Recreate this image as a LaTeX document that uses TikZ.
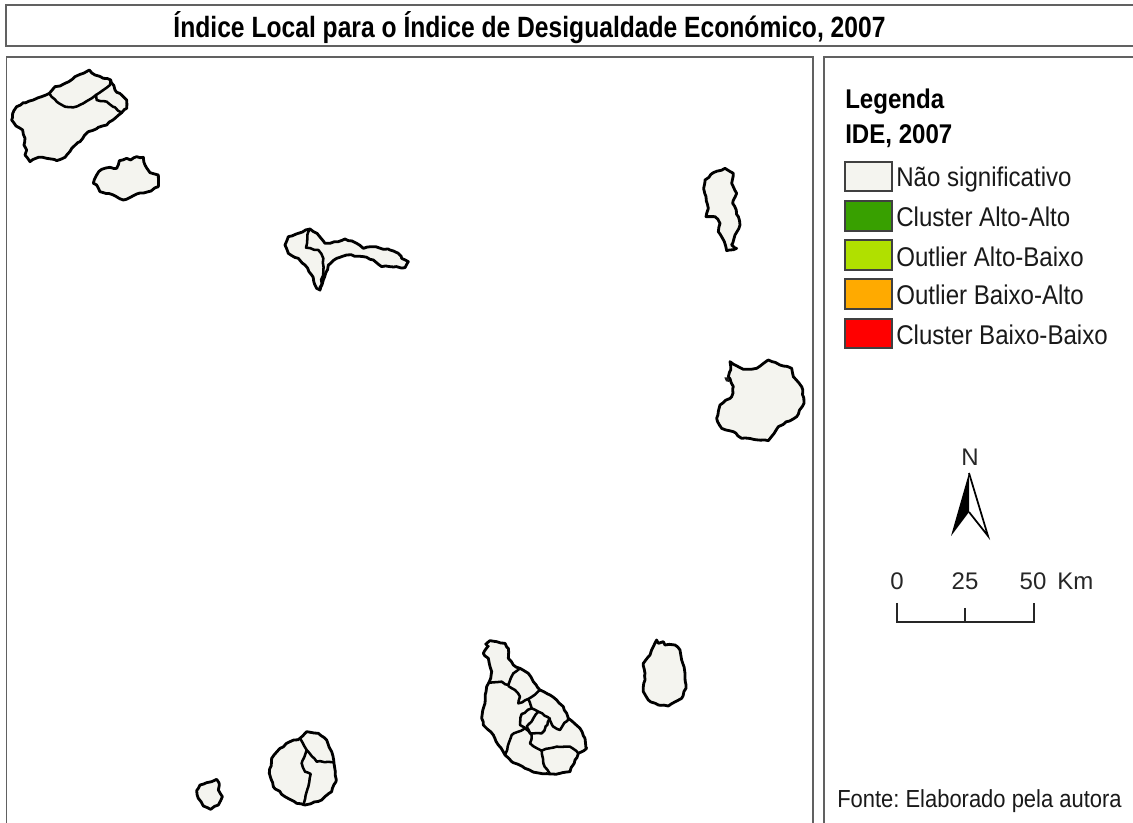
\documentclass[tikz,border=0pt]{standalone}
\usepackage{fontspec}
\usetikzlibrary{decorations.pathmorphing}
\setmainfont{Liberation Sans}
\newfontfamily\narrowfont[FakeStretch=0.89]{Liberation Sans}
\newfontfamily\titlefont[FakeStretch=0.84]{Liberation Sans}
\definecolor{landfill}{HTML}{F4F4EF}
\definecolor{cA}{HTML}{38A000}
\definecolor{cB}{HTML}{B0E000}
\definecolor{cC}{HTML}{FFAA00}
\definecolor{cD}{HTML}{FF0000}
\frenchspacing
\tikzset{
  frame/.style={draw=black!62,line width=1.1pt,fill=white},
  wiggle/.style={decorate,decoration={random steps,segment length=3pt,amplitude=0.55pt}},
  island/.style={draw=black,line width=2.1pt,fill=landfill,line join=round,wiggle},
  border/.style={draw=black,line width=1.9pt,line join=round,line cap=round,wiggle},
  swatch/.style={draw=black!75,line width=1.1pt},
  lbl/.style={anchor=base west,inner sep=0pt,font=\narrowfont\fontsize{20.3}{20.3}\selectfont,text=black!90},
  bold/.style={anchor=base west,inner sep=0pt,font=\narrowfont\bfseries\fontsize{20.3}{20.3}\selectfont},
  ttl/.style={anchor=base,inner sep=0pt,font=\titlefont\bfseries\fontsize{22}{22}\selectfont},
  sc/.style={anchor=base,inner sep=0pt,font=\fontsize{18}{18}\selectfont,text=black!85},
  subscale/.style={x=0.25pt,y=-0.25pt},
}
\pgfmathsetseed{7}
\begin{document}
\begin{tikzpicture}[x=0.75pt,y=-0.75pt]
\useasboundingbox (0,0) rectangle (1133,823);
\fill[white] (0,0) rectangle (1133,823);
% frames
\path[frame] (6,5) rectangle (1140,46);
\path[frame] (6.5,57) rectangle (813,830);
\path[frame] (824,57) rectangle (1140,830);
\node[ttl] (title) at (529.5,38) {Índice Local para o Índice de Desigualdade Económico, 2007};
% Santo Antao, Sao Vicente
\begin{scope}[shift={(0,50)},subscale]
\path[island] (148,130)--(125,140)--(100,150)--(70,158)--(50,170)--(38,190)--(35,210)--(48,228)--(68,240)--(75,265)--(72,285)--(80,300)--(75,315)--(90,335)--(115,322)--(140,325)--(170,332)--(195,322)--(215,295)--(240,275)--(265,245)--(295,232)--(320,225)--(345,205)--(365,188)--(380,175)--(380,150)--(370,140)--(345,120)--(332,90)--(310,85)--(285,75)--(268,60)--(250,70)--(225,80)--(195,100)--(180,108)--(165,110)--cycle;
\draw[border] (148,130)--(170,155)--(195,170)--(220,172)--(250,160)--(275,145)--(288,135)--(310,120)--(330,105)--(332,90);
\draw[border] (288,135)--(290,150)--(320,155)--(345,172)--(365,188);
\path[island] (280,400)--(290,375)--(305,358)--(330,352)--(350,355)--(358,332)--(380,325)--(392,330)--(410,320)--(430,322)--(435,345)--(450,368)--(475,375)--(475,410)--(445,425)--(410,432)--(370,450)--(340,435)--(300,425)--(290,405)--cycle;
\end{scope}
% Sao Nicolau
\begin{scope}[shift={(270,215)},subscale]
\path[island] (120,42)--(145,60)--(165,85)--(180,85)--(225,72)--(260,85)--(280,100)--(305,95)--(360,105)--(385,115)--(395,130)--(415,140)--(405,158)--(360,155)--(335,155)--(310,135)--(280,125)--(230,120)--(200,130)--(175,150)--(160,195)--(150,225)--(140,220)--(125,180)--(105,150)--(85,130)--(55,115)--(45,90)--(55,65)--(85,55)--cycle;
\draw[border] (120,42)--(112,60)--(108,98)--(145,105)--(160,130)--(160,170)--(150,225);
\end{scope}
% Sal, Boa Vista
\begin{scope}[shift={(690,160)},subscale]
\path[island] (45,60)--(70,38)--(105,25)--(130,40)--(125,70)--(140,100)--(128,130)--(145,170)--(150,195)--(135,225)--(125,255)--(140,265)--(110,272)--(103,245)--(85,215)--(90,190)--(75,170)--(48,170)--(55,145)--(48,110)--(42,80)--cycle;
\path[island] (120,605)--(135,615)--(160,628)--(200,625)--(235,600)--(270,615)--(305,625)--(310,650)--(335,680)--(342,730)--(320,770)--(265,800)--(235,842)--(190,838)--(155,835)--(130,815)--(95,805)--(80,775)--(90,735)--(125,710)--(130,680)--(115,650)--(122,630)--cycle;
\fill[black!90] (103,652)--(115,652)--(118,666)--(108,664)--cycle;
\end{scope}
% Maio
\begin{scope}[shift={(630,630)},subscale]
\path[island] (80,30)--(85,40)--(100,35)--(105,45)--(135,45)--(150,60)--(155,90)--(165,130)--(168,175)--(155,205)--(115,228)--(85,225)--(55,210)--(40,185)--(45,130)--(40,100)--(60,75)--(70,50)--cycle;
\end{scope}
% Santiago
\begin{scope}[shift={(470,630)},subscale]
\path[island] (45,45)--(60,32)--(80,35)--(105,40)--(115,55)--(115,85)--(130,105)--(150,115)--(175,130)--(190,155)--(210,180)--(240,195)--(260,210)--(280,230)--(295,265)--(330,295)--(345,325)--(350,355)--(325,370)--(315,390)--(300,425)--(270,430)--(240,432)--(200,428)--(165,415)--(125,395)--(105,375)--(85,345)--(70,315)--(40,285)--(35,265)--(45,220)--(50,170)--(58,155)--(65,125)--(55,85)--(40,70)--(50,55)--cycle;
\draw[border] (58,158)--(95,155)--(115,165)--(130,130)--(150,115);
\draw[border] (115,168)--(135,180)--(150,200)--(145,220)--(175,207)--(210,180);
\draw[border] (175,207)--(185,235)--(205,245)--(235,262)--(250,290)--(270,300)--(295,265);
\draw[border] (185,235)--(155,252)--(150,285)--(165,295)--(125,315)--(105,375);
\draw[border] (205,245)--(190,265)--(170,290)--(180,310)--(215,310)--(232,285)--(240,265);
\draw[border] (165,295)--(185,315)--(180,340)--(215,362)--(260,350)--(300,350)--(325,370);
\draw[border] (215,362)--(220,400)--(240,432);
\end{scope}
% Fogo, Brava
\begin{scope}[shift={(190,720)},subscale]
\path[island] (330,55)--(350,35)--(385,40)--(410,60)--(425,95)--(432,130)--(438,185)--(425,215)--(395,240)--(345,255)--(320,250)--(285,230)--(250,200)--(238,160)--(245,115)--(270,85)--(300,65)--cycle;
\draw[border] (330,55)--(350,90)--(380,125)--(430,127);
\draw[border] (350,90)--(335,130)--(345,155)--(362,162)--(350,215)--(340,255);
\path[island] (30,195)--(50,188)--(65,185)--(80,178)--(88,195)--(85,210)--(97,230)--(85,255)--(62,268)--(40,258)--(25,235)--(20,212)--cycle;
\end{scope}
% Legend
\node[bold] (legA) at (845,109) {Legenda};
\node[bold] (legB) at (845,144) {IDE, 2007};
\path[swatch,fill=landfill] (845,162) rectangle (892,191);
\path[swatch,fill=cA] (845,201) rectangle (892,231);
\path[swatch,fill=cB] (845,240) rectangle (892,270);
\path[swatch,fill=cC] (845,279) rectangle (892,309);
\path[swatch,fill=cD] (845,319) rectangle (892,348);
\node[lbl] (l0) at (896,187) {Não significativo};
\node[lbl] (l1) at (896,227) {Cluster Alto-Alto};
\node[lbl] (l2) at (896,267) {Outlier Alto-Baixo};
\node[lbl] (l3) at (896,305) {Outlier Baixo-Alto};
\node[lbl] (l4) at (896,345) {Cluster Baixo-Baixo};
% North arrow
\node[sc] (north) at (970,466) {N};
\coordinate (nt) at (969,473);
\coordinate (nl) at (951,536);
\coordinate (nr) at (988,536);
\coordinate (nm) at (969,512);
\fill[black] (nt)--(nm)--(nl)--cycle;
\draw[black,line width=1.3pt,line join=miter] (nt)--(nr)--(nm);
% Scale bar
\node[sc] (s0) at (897,590) {0};
\node[sc] (s1) at (965,590) {25};
\node[sc] (s2) at (1033,590) {50};
\node[sc,anchor=base west] (skm) at (1057,590) {Km};
\draw[black!85,line width=1.6pt] (897,603)--(897,622)--(1034,622)--(1034,603);
\draw[black!85,line width=1.6pt] (965,608)--(965,622);
% Source
\node[lbl,font=\narrowfont\fontsize{18.5}{18.5}\selectfont] (src) at (837,807) {Fonte: Elaborado pela autora};
\end{tikzpicture}
\end{document}
